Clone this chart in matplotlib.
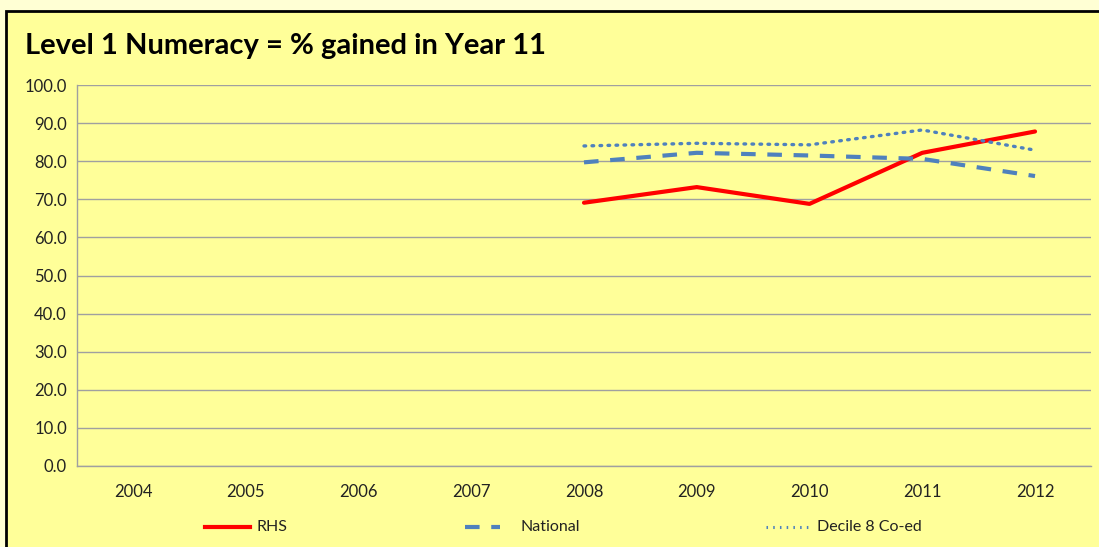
import matplotlib
matplotlib.use("Agg")
import matplotlib.pyplot as plt
from matplotlib.patches import Rectangle
from matplotlib.lines import Line2D

years = ["2004", "2005", "2006", "2007", "2008", "2009", "2010", "2011", "2012"]
rhs_years = ["2008", "2009", "2010", "2011", "2012"]
rhs = [69.1, 73.2, 68.8, 82.2, 87.8]
national = [79.7, 82.2, 81.5, 80.6, 76.1]
decile = [84.0, 84.7, 84.3, 88.2, 82.9]
yticks = [0, 10, 20, 30, 40, 50, 60, 70, 80, 90, 100]

plt.rcParams['font.family'] = ['Lato', 'DejaVu Sans']

W, H = 1099, 547
fig = plt.figure(figsize=(W / 100, H / 100), dpi=100)
fig.patch.set_facecolor('#FFFFD4')

panel = Rectangle((6 / W, -0.1), 1.2, (H - 10.5) / H + 0.1, transform=fig.transFigure,
                  facecolor='#FFFF99', edgecolor='black', linewidth=2, zorder=-10)
fig.add_artist(panel)

fig.text(25 / W, 1 - 46 / H, "Level 1 Numeracy = % gained in Year 11", fontsize=21,
         fontweight='bold', va='center', ha='left', color='black')

left, right = 76.6 / W, 1091.4 / W
bottom, top = 1 - 466 / H, 1 - 85 / H
ax = fig.add_axes([left, bottom, right - left, top - bottom])
ax.set_facecolor('none')

xpos = {y: i for i, y in enumerate(years)}
xs = [xpos[y] for y in rhs_years]

ax.plot(xs, rhs, color='#FF0000', lw=3, solid_capstyle='round', label='RHS')
ax.plot(xs, national, color='#4F81BD', lw=3, dashes=(3.5, 2.8), label='National')
ax.plot(xs, decile, color='#4F81BD', lw=2.4, linestyle=(0, (0.5, 1.9)),
        dash_capstyle='round', label='Decile 8 Co-ed')

ax.set_xlim(-0.5, len(years) - 0.5)
ax.set_ylim(0, 100)
ax.set_yticks(yticks)
ax.set_yticklabels([f"{v:.1f}" for v in yticks])
ax.set_xticks(range(len(years)))
ax.set_xticklabels(years)
ax.tick_params(axis='both', length=0, labelsize=12, colors='#222222')
ax.tick_params(axis='x', pad=13)
ax.tick_params(axis='y', pad=7)
ax.grid(axis='y', color='#A0A0A0', lw=1)
ax.set_axisbelow(True)
for s in ['top', 'right']:
    ax.spines[s].set_visible(False)
for s in ['left', 'bottom']:
    ax.spines[s].set_color('#A0A0A0')
    ax.spines[s].set_linewidth(1)

# legend entries
leg_y = 1 - 527 / H
items = [
    (205, 250, 256, dict(color='#FF0000', lw=3), 'RHS'),
    (465, 500, 520, dict(color='#4F81BD', lw=3, dashes=(3.5, 2.8)), 'National'),
    (766, 810, 817, dict(color='#4F81BD', lw=2.2, linestyle=(0, (0.5, 1.7))), 'Decile 8 Co-ed'),
]
for x0, x1, xt, style, lab in items:
    fig.add_artist(Line2D([x0 / W, x1 / W], [leg_y, leg_y], transform=fig.transFigure, **style))
    fig.text(xt / W, leg_y, lab, fontsize=11.5, va='center', ha='left', color='#222222')

fig.savefig('out.png', dpi=100, facecolor=fig.get_facecolor())
